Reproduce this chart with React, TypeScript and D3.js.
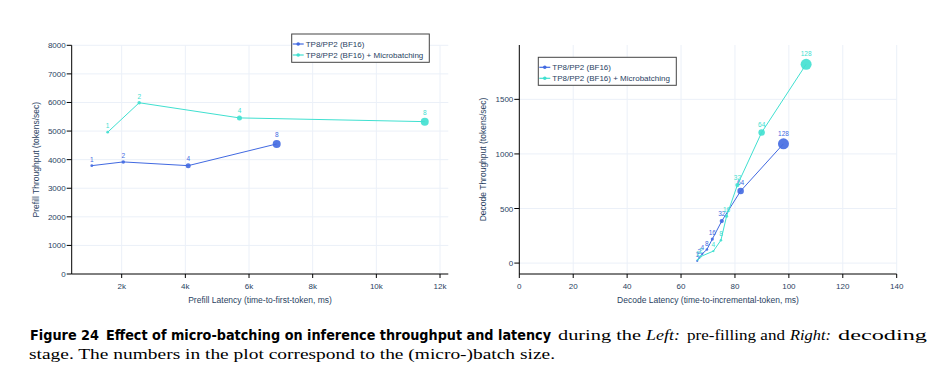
import React from "react";
import * as d3 from "d3";

// ---------- data ----------
const seriesNames = ["TP8/PP2 (BF16)", "TP8/PP2 (BF16) + Microbatching"];

const prefillBatch = [1, 2, 4, 8];
const prefillLatBase = [1060, 2050, 4090, 6870];
const prefillThrBase = [3790, 3920, 3790, 4550];
const prefillLatMicro = [1560, 2550, 5700, 11520];
const prefillThrMicro = [4960, 5990, 5460, 5330];

const decodeBatch = [1, 2, 4, 8, 16, 32, 64, 128];
const decodeLatBase = [66.0, 66.8, 67.9, 69.6, 71.6, 75.1, 82.1, 98.0];
const decodeThrBase = [20, 50, 85, 125, 220, 385, 660, 1093];
const decodeLatMicro = [66.2, 67.3, 72.0, 74.8, 76.9, 80.9, 89.9, 106.4];
const decodeThrMicro = [30, 60, 110, 210, 430, 715, 1197, 1821];

const prefillXTicks = [2000, 4000, 6000, 8000, 10000, 12000];
const prefillYTicks = [0, 1000, 2000, 3000, 4000, 5000, 6000, 7000, 8000];
const decodeXTicks = [0, 20, 40, 60, 80, 100, 120, 140];
const decodeYTicks = [0, 500, 1000, 1500];

const COLORS = ["#4169E1", "#40E0D0"];
const AXIS_TEXT = "#2a3f5f";
const GRID = "#EBF0F8";
const FONT = "'Liberation Sans', Arial, sans-serif";

type Pt = { x: number; y: number; b: number };

function zip(xs: number[], ys: number[], bs: number[]): Pt[] {
  return xs.map((x, i) => ({ x, y: ys[i], b: bs[i] }));
}

type PanelProps = {
  x0: number; x1: number; y0: number; y1: number;
  xDomain: [number, number]; yDomain: [number, number];
  xTicks: number[]; yTicks: number[];
  xFmt: (v: number) => string;
  xTitle: string; yTitle: string; yTitleX: number;
  series: Pt[][];
  maxB: number; rMax: number;
  legend: { x: number; y: number; w: number; h: number };
  xGridTicks: number[];
  yGridTicks: number[];
};

function Panel(p: PanelProps) {
  const xs = d3.scaleLinear().domain(p.xDomain).range([p.x0, p.x1]);
  const ys = d3.scaleLinear().domain(p.yDomain).range([p.y1, p.y0]);
  const rs = d3.scaleLinear().domain([0, p.maxB]).range([1, p.rMax]);
  const line = d3.line<Pt>().x((d) => xs(d.x)).y((d) => ys(d.y));
  return (
    <g>
      {p.xGridTicks.map((t) => (
        <line key={"gx" + t} x1={xs(t)} x2={xs(t)} y1={p.y0} y2={p.y1} stroke={GRID} strokeWidth={1} />
      ))}
      {p.yGridTicks.map((t) => (
        <line key={"gy" + t} x1={p.x0} x2={p.x1} y1={ys(t)} y2={ys(t)} stroke={GRID} strokeWidth={1} />
      ))}
      <line x1={p.x0} x2={p.x1} y1={p.y1} y2={p.y1} stroke="#000" strokeWidth={1} />
      <line x1={p.x0} x2={p.x0} y1={p.y0} y2={p.y1} stroke="#000" strokeWidth={1} />
      {p.xTicks.map((t) => (
        <g key={"xt" + t}>
          <line x1={xs(t)} x2={xs(t)} y1={p.y1} y2={p.y1 + 4} stroke="#000" />
          <text x={xs(t)} y={p.y1 + 15} textAnchor="middle" fontSize={8} fill={AXIS_TEXT} fontFamily={FONT}>
            {p.xFmt(t)}
          </text>
        </g>
      ))}
      {p.yTicks.map((t) => (
        <g key={"yt" + t}>
          <line x1={p.x0 - 5} x2={p.x0} y1={ys(t)} y2={ys(t)} stroke="#000" />
          <text x={p.x0 - 6} y={ys(t) + 3} textAnchor="end" fontSize={8} fill={AXIS_TEXT} fontFamily={FONT}>
            {t}
          </text>
        </g>
      ))}
      <text x={(p.x0 + p.x1) / 2} y={p.y1 + 29} textAnchor="middle" fontSize={8.5} fill={AXIS_TEXT} fontFamily={FONT}>
        {p.xTitle}
      </text>
      <text
        transform={`translate(${p.yTitleX},${(p.y0 + p.y1) / 2}) rotate(-90)`}
        textAnchor="middle" fontSize={8.5} fill={AXIS_TEXT} fontFamily={FONT}
      >
        {p.yTitle}
      </text>
      {p.series.map((pts, si) => (
        <g key={"s" + si}>
          <path d={line(pts) || ""} fill="none" stroke={COLORS[si]} strokeWidth={1} />
          {pts.map((d, i) => (
            <circle key={i} cx={xs(d.x)} cy={ys(d.y)} r={rs(d.b)} fill={COLORS[si]} fillOpacity={0.9} />
          ))}
          {pts.map((d, i) => (
            <text key={"l" + i} x={xs(d.x)} y={ys(d.y) - rs(d.b) - 2.5} textAnchor="middle" fontSize={6.5}
              fill={COLORS[si]} fontFamily={FONT}>
              {d.b}
            </text>
          ))}
        </g>
      ))}
      <rect x={p.legend.x} y={p.legend.y} width={p.legend.w} height={p.legend.h} fill="#fff" stroke="#444" strokeWidth={1} />
      {seriesNames.map((n, i) => {
        const cy = p.legend.y + 10 + i * 11;
        return (
          <g key={"lg" + i}>
            <line x1={p.legend.x + 1} x2={p.legend.x + 12} y1={cy} y2={cy} stroke={COLORS[i]} strokeWidth={1.2} />
            <circle cx={p.legend.x + 6.5} cy={cy} r={1.8} fill={COLORS[i]} />
            <text x={p.legend.x + 14} y={cy + 3} fontSize={8} fill={AXIS_TEXT} fontFamily={FONT}>{n}</text>
          </g>
        );
      })}
    </g>
  );
}

export default function App() {
  const pBase = zip(prefillLatBase, prefillThrBase, prefillBatch);
  const pMicro = zip(prefillLatMicro, prefillThrMicro, prefillBatch);
  const dBase = zip(decodeLatBase, decodeThrBase, decodeBatch);
  const dMicro = zip(decodeLatMicro, decodeThrMicro, decodeBatch);
  const serif = "'Liberation Serif', 'DejaVu Serif', serif";
  const boldSans = "'DejaVu Sans Condensed', 'Liberation Sans Narrow', 'Liberation Sans', sans-serif";
  return (
    <div style={{ position: "absolute", left: 0, top: 0 }}>
      <svg width={942} height={379} style={{ display: "block", background: "#fff" }}>
        <Panel
          x0={71.7} x1={448.3} y0={45.3} y1={274}
          xDomain={[430, 12260]} yDomain={[0, 8000]}
          xTicks={prefillXTicks} yTicks={prefillYTicks}
          xGridTicks={prefillXTicks} yGridTicks={prefillYTicks.filter((t) => t > 0)}
          xFmt={(v) => v / 1000 + "k"}
          xTitle="Prefill Latency (time-to-first-token, ms)"
          yTitle="Prefill Throughput (tokens/sec)" yTitleX={39}
          series={[pBase, pMicro]} maxB={8} rMax={4}
          legend={{ x: 291.7, y: 34, w: 137.6, h: 28.3 }}
        />
        <Panel
          x0={519.3} x1={896.7} y0={45} y1={274}
          xDomain={[0, 140]} yDomain={[-100, 1998]}
          xTicks={decodeXTicks} yTicks={decodeYTicks}
          xGridTicks={decodeXTicks.filter((t) => t > 0)} yGridTicks={decodeYTicks}
          xFmt={(v) => String(v)}
          xTitle="Decode Latency (time-to-incremental-token, ms)"
          yTitle="Decode Throughput (tokens/sec)" yTitleX={486}
          series={[dBase, dMicro]} maxB={128} rMax={5.5}
          legend={{ x: 538.3, y: 57.3, w: 138, h: 28 }}
        />
        {/* caption */}
        <text x={30} y={340} fontSize={14} fontWeight="bold" fontFamily={boldSans} fill="#000"
          textLength={69} lengthAdjust="spacingAndGlyphs">Figure 24</text>
        <text x={106} y={340} fontSize={14} fontWeight="bold" fontFamily={boldSans} fill="#000"
          textLength={445} lengthAdjust="spacingAndGlyphs">
          Effect of micro-batching on inference throughput and latency
        </text>
        <text x={558} y={340} fontSize={15} fontFamily={serif} fill="#000" textLength={83} lengthAdjust="spacingAndGlyphs">during the</text>
        <text x={646} y={340} fontSize={15} fontFamily={serif} fontStyle="italic" fill="#000" textLength={34} lengthAdjust="spacingAndGlyphs">Left:</text>
        <text x={687} y={340} fontSize={15} fontFamily={serif} fill="#000" textLength={98} lengthAdjust="spacingAndGlyphs">pre-filling and</text>
        <text x={790} y={340} fontSize={15} fontFamily={serif} fontStyle="italic" fill="#000" textLength={41} lengthAdjust="spacingAndGlyphs">Right:</text>
        <text x={838} y={340} fontSize={15} fontFamily={serif} fill="#000" textLength={89} lengthAdjust="spacingAndGlyphs">decoding</text>
        <text x={29} y={359} fontSize={15} fontFamily={serif} fill="#000" textLength={526} lengthAdjust="spacingAndGlyphs">
          stage. The numbers in the plot correspond to the (micro-)batch size.
        </text>
      </svg>
    </div>
  );
}
